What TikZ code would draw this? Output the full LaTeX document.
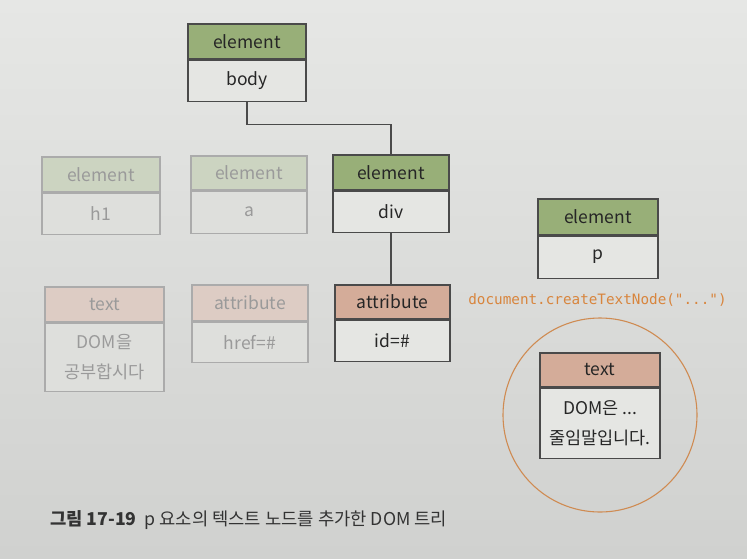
\documentclass[tikz,border=0pt]{standalone}
\usepackage{fontspec}
\setmainfont{Noto Sans CJK KR}
\setmonofont{DejaVu Sans Mono}
\definecolor{pagetop}{HTML}{E6E7E5}
\definecolor{pagebot}{HTML}{D0D1CF}
\definecolor{grnA}{HTML}{98AF78}
\definecolor{grnF}{HTML}{CCD4C1}
\definecolor{salA}{HTML}{D4AC99}
\definecolor{salF}{HTML}{DDCCC4}
\definecolor{bodyA}{HTML}{E5E6E3}
\definecolor{bodyF}{HTML}{DEDFDC}
\definecolor{lineA}{HTML}{4A4A4A}
\definecolor{lineF}{HTML}{ABABAB}
\definecolor{txtF}{HTML}{9A9A9A}
\definecolor{orng}{HTML}{D8853D}
\definecolor{circ}{HTML}{CF8B52}
\tikzset{
  hdr/.style={draw=lineA, line width=1.1pt, minimum width=117pt, minimum height=35pt, inner sep=0pt, font=\fontsize{17.5}{20}\selectfont, text=black!85},
  bdy/.style={draw=lineA, line width=1.1pt, fill=bodyA, minimum width=117pt, minimum height=41pt, inner sep=0pt, anchor=north, font=\fontsize{17.5}{30}\selectfont, text=black!85, align=center},
  fade/.style={draw=lineF, text=txtF},
  conn/.style={draw=lineA, line width=1.1pt},
}
\begin{document}
\begin{tikzpicture}[x=1pt,y=-1pt]
\shade[top color=pagetop, bottom color=pagebot] (0,0) rectangle (747,558);
\useasboundingbox (0,0) rectangle (747,558);
% body
\node[hdr, fill=grnA, minimum width=118pt] (bodyh) at (247,41.5) {element};
\node[bdy, minimum width=118pt] (bodyb) at (bodyh.south) {body};
% h1
\node[hdr, fade, fill=grnF, minimum width=118pt] (h1h) at (101,174.5) {element};
\node[bdy, fade, fill=bodyF, minimum width=118pt] (h1b) at (h1h.south) {h1};
% a
\node[hdr, fade, fill=grnF, minimum width=116pt, minimum height=34pt] (ah) at (249,173) {element};
\node[bdy, fade, fill=bodyF, minimum width=116pt, minimum height=42pt] (ab) at (ah.south) {a};
% div
\node[hdr, fill=grnA, minimum width=116pt] (divh) at (391,172.5) {element};
\node[bdy, minimum width=116pt] (divb) at (divh.south) {div};
% text faded
\node[hdr, fade, fill=salF, minimum width=119pt] (th) at (104.5,304.5) {text};
\node[bdy, fade, fill=bodyF, minimum width=119pt, minimum height=68pt] (tb) at (th.south) {DOM을\\공부합시다};
% href
\node[hdr, fade, fill=salF, minimum width=116pt, minimum height=36pt] (hh) at (250,303) {attribute};
\node[bdy, fade, fill=bodyF, minimum width=116pt, minimum height=40pt] (hb) at (hh.south) {href=\#};
% id
\node[hdr, fill=salA, minimum width=115pt, minimum height=34pt] (idh) at (392.5,302) {attribute};
\node[bdy, minimum width=115pt, minimum height=41pt] (idb) at (idh.south) {id=\#};
% p
\node[hdr, fill=grnA, minimum width=120pt, minimum height=36pt] (ph) at (598,217) {element};
\node[bdy, minimum width=120pt, minimum height=42pt] (pb) at (ph.south) {p};
% code
\node[text=orng, font=\ttfamily\fontsize{14.3}{16}\selectfont, inner sep=0pt] (code) at (597.5,300) {document.createTextNode("...")};
% circle
\node[draw=circ, line width=1.1pt, circle, minimum size=194pt, inner sep=0pt] (ring) at (600,415) {};
% new text
\node[hdr, fill=salA, minimum width=120pt, minimum height=34pt] (nth) at (600,370) {text};
\node[bdy, minimum width=120pt, minimum height=70pt] (ntb) at (nth.south) {DOM은 ...\\줄임말입니다.};
% connectors
\draw[conn] (bodyb.south) -- ++(0,23) -| (divh.north);
\draw[conn] (divb.south) -- (divb.south |- idh.north);
% caption
\node[anchor=west, inner sep=0pt, font=\fontsize{17.7}{20}\selectfont, text=black!80] (cap) at (50,520) {\textbf{그림 17-19}\ \ p 요소의 텍스트 노드를 추가한 DOM 트리};
\end{tikzpicture}
\end{document}
